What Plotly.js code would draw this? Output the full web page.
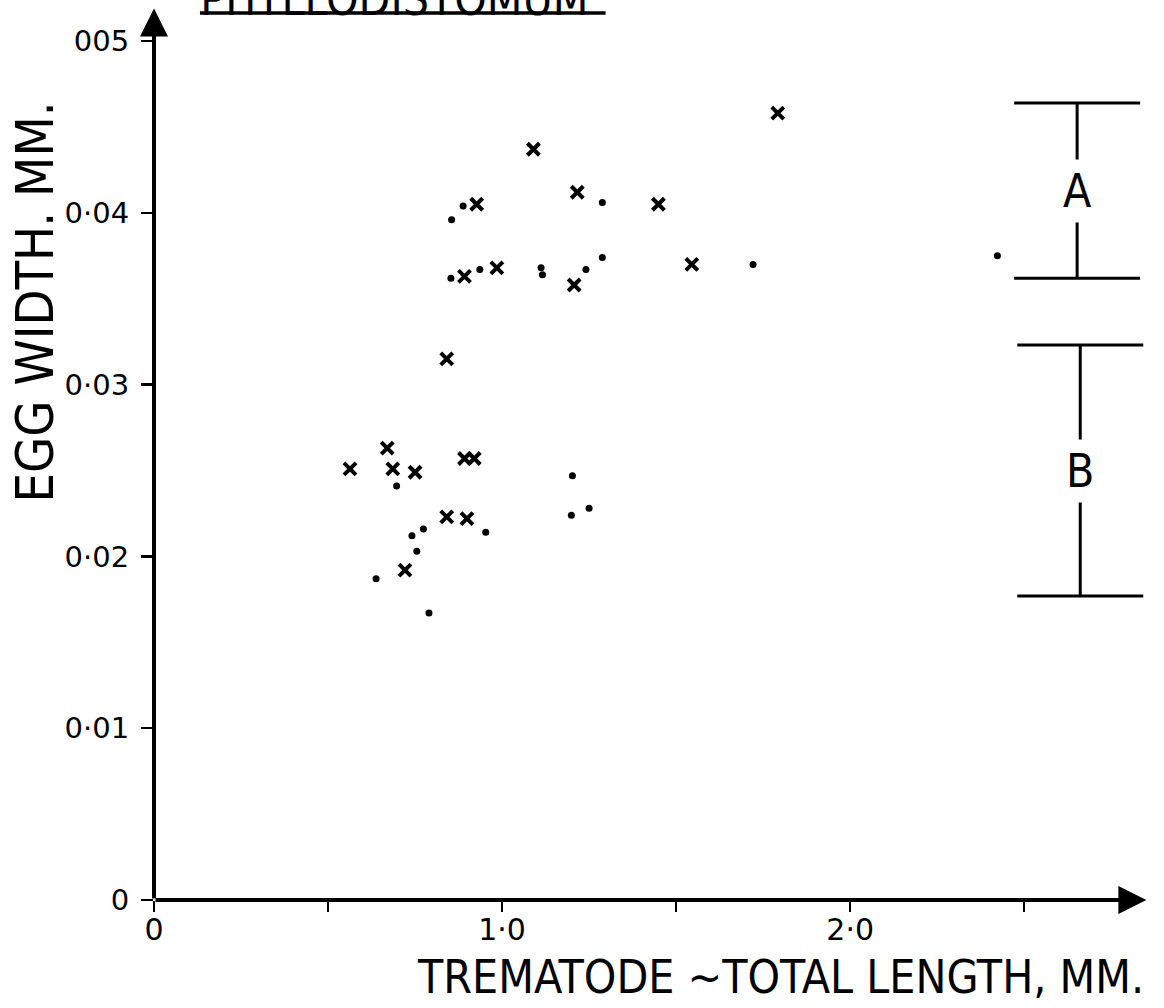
<!DOCTYPE html>
<html>
<head>
<meta charset="utf-8">
<script src="https://cdn.plot.ly/plotly-3.0.1.min.js"></script>
<style>html,body{margin:0;padding:0;background:#fff;}#chart{width:1164px;height:1008px;}</style>
</head>
<body>
<div id="chart"></div>
<script>
// Trematode total length (mm) and egg width (mm)
const crossLength = [1.090, 1.216, 1.449, 0.927, 0.892, 0.985, 1.207, 1.545, 1.792, 0.841, 0.670, 0.563, 0.686, 0.750, 0.892, 0.920, 0.841, 0.899, 0.721];
const crossEggWidth = [0.0437, 0.0412, 0.0405, 0.0405, 0.0363, 0.0368, 0.0358, 0.0370, 0.0458, 0.0315, 0.0263, 0.0251, 0.0251, 0.0249, 0.0257, 0.0257, 0.0223, 0.0222, 0.0192];

const dotLength = [1.288, 0.888, 0.855, 0.853, 0.936, 1.112, 1.116, 1.241, 1.288, 1.721, 2.423, 0.697, 1.202, 0.953, 0.774, 0.741, 0.755, 0.638, 0.790, 1.199, 1.250];
const dotEggWidth = [0.0406, 0.0404, 0.0396, 0.0362, 0.0367, 0.0368, 0.0364, 0.0367, 0.0374, 0.0370, 0.0375, 0.0241, 0.0247, 0.0214, 0.0216, 0.0212, 0.0203, 0.0187, 0.0167, 0.0224, 0.0228];

// Egg-width ranges A and B drawn at the right
const rangeLabels = ['A', 'B'];
const rangeX = [2.652, 2.661];
const rangeLow = [0.0362, 0.0177];
const rangeHigh = [0.0464, 0.0323];

// Axis ticks
const xTickVals = [0, 0.5, 1.0, 1.5, 2.0, 2.5];
const xTickText = ['0', '', '1·0', '', '2·0', ''];
const yTickVals = [0, 0.01, 0.02, 0.03, 0.04, 0.05];
const yTickText = ['0', '0·01', '0·02', '0·03', '0·04', '005'];

const titleText = 'PHYLLODISTOMUM';
const xTitle = 'TREMATODE ~TOTAL LENGTH, MM.';
const yTitle = 'EGG WIDTH. MM.';

const handFont = 'Liberation Sans Narrow, DejaVu Sans Condensed, Arial Narrow, sans-serif';
const tickFont = 'DejaVu Sans, sans-serif';

const rangeMid = rangeLow.map((v, i) => (v + rangeHigh[i]) / 2);
const rangeHalf = rangeLow.map((v, i) => (rangeHigh[i] - v) / 2);

const traces = [
  {
    type: 'scatter', mode: 'markers', name: 'x',
    x: crossLength, y: crossEggWidth,
    marker: {symbol: 'x-thin', size: 12, color: '#000', line: {color: '#000', width: 4}},
    cliponaxis: false, showlegend: false, hoverinfo: 'x+y'
  },
  {
    type: 'scatter', mode: 'markers', name: 'dot',
    x: dotLength, y: dotEggWidth,
    marker: {symbol: 'circle', size: 7, color: '#000'},
    cliponaxis: false, showlegend: false, hoverinfo: 'x+y'
  },
  {
    type: 'scatter', mode: 'markers', name: 'ranges',
    x: rangeX, y: rangeMid,
    marker: {size: 1, color: 'rgba(0,0,0,0)'},
    error_y: {type: 'data', symmetric: true, array: rangeHalf, width: 63, thickness: 3, color: '#000'},
    cliponaxis: false, showlegend: false, hoverinfo: 'skip'
  }
];

const annotations = [
  // x axis with arrowhead
  {x: 2.851, y: 0, ax: 0, ay: 0, xref: 'x', yref: 'y', axref: 'x', ayref: 'y',
   text: '', showarrow: true, arrowhead: 2, arrowsize: 1.4, arrowwidth: 4, arrowcolor: '#000'},
  // y axis with arrowhead
  {x: 0, y: 0.0519, ax: 0, ay: 0, xref: 'x', yref: 'y', axref: 'x', ayref: 'y',
   text: '', showarrow: true, arrowhead: 2, arrowsize: 1.4, arrowwidth: 4, arrowcolor: '#000'},
  // axis titles
  {xref: 'paper', yref: 'paper', x: 0.627, y: -0.085, xanchor: 'center', yanchor: 'middle',
   text: xTitle, showarrow: false, font: {family: handFont, size: 46, color: '#000'}},
  {xref: 'paper', yref: 'paper', x: -0.119, y: 0.664, xanchor: 'center', yanchor: 'middle',
   text: yTitle, textangle: -90, showarrow: false, font: {family: handFont, size: 52, color: '#000'}}
];
rangeLabels.forEach((lab, i) => {
  annotations.push({x: rangeX[i], y: rangeMid[i], xref: 'x', yref: 'y', text: lab, showarrow: false,
    bgcolor: '#fff', borderpad: 4, font: {family: handFont, size: 46, color: '#000'}});
});

const layout = {
  width: 1164, height: 1008,
  paper_bgcolor: '#fff', plot_bgcolor: '#fff',
  margin: {l: 154, r: 11, t: 0, b: 108},
  showlegend: false,
  title: {text: titleText, xref: 'container', yref: 'container', x: 0.172, xanchor: 'left',
          y: 0.985, yanchor: 'bottom', font: {family: handFont, size: 46, color: '#000'}},
  xaxis: {
    range: [0, 2.87], showgrid: false, zeroline: false, showline: false,
    tickmode: 'array', tickvals: xTickVals, ticktext: xTickText,
    ticks: 'outside', ticklen: 11, tickwidth: 2.5, tickcolor: '#000',
    ticklabelstandoff: -8,
    tickfont: {family: tickFont, size: 30, color: '#000'}
  },
  yaxis: {
    range: [0, 0.05239], showgrid: false, zeroline: false, showline: false,
    tickmode: 'array', tickvals: yTickVals, ticktext: yTickText,
    ticks: 'outside', ticklen: 12, tickwidth: 2.5, tickcolor: '#000',
    ticklabelstandoff: 6,
    tickfont: {family: tickFont, size: 29, color: '#000'}
  },
  annotations: annotations,
  shapes: [
    {type: 'line', xref: 'paper', yref: 'paper', x0: 0.046, x1: 0.452, y0: 0.9856, y1: 0.9856,
     line: {color: '#000', width: 3.5}}
  ]
};

Plotly.newPlot('chart', traces, layout, {displayModeBar: false, staticPlot: true});
</script>
</body>
</html>
